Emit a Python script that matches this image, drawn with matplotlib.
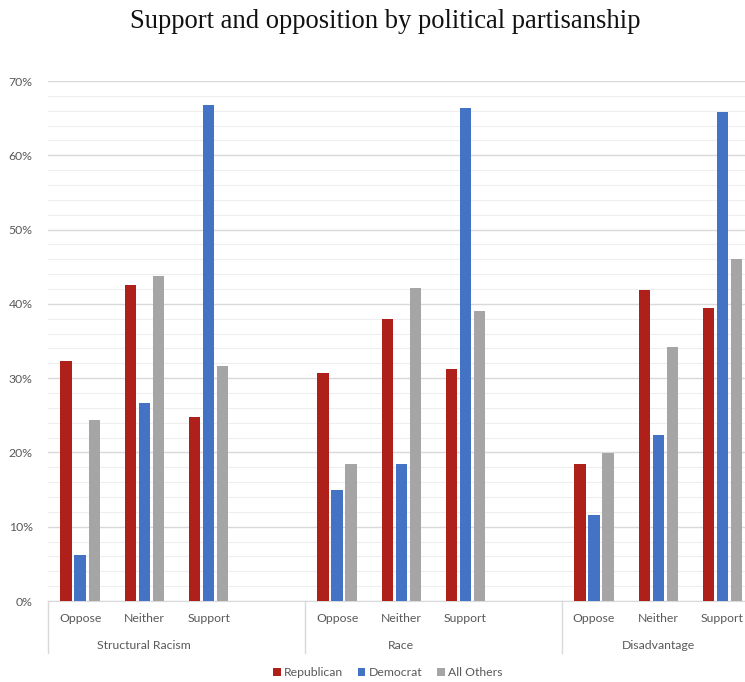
import matplotlib.pyplot as plt
import matplotlib.transforms as mtransforms
import numpy as np

plt.rcParams['font.family'] = ['Lato', 'DejaVu Sans']

groups = ["Structural Racism", "Race", "Disadvantage"]
responses = ["Oppose", "Neither", "Support"]
series = ["Republican", "Democrat", "All Others"]

republican = [32.3, 42.6, 24.8, 30.7, 37.9, 31.2, 18.4, 41.9, 39.5]
democrat = [6.2, 26.7, 66.8, 15.0, 18.4, 66.3, 11.6, 22.4, 65.8]
all_others = [24.4, 43.8, 31.6, 18.5, 42.1, 39.0, 19.9, 34.2, 46.0]

colors = ["#B0201A", "#4472C4", "#A5A5A5"]

fig = plt.figure(figsize=(7.45, 6.82), dpi=100)
ax = fig.add_axes([48 / 745, 81 / 682, 1 - 48 / 745, 520 / 682])

# each group has 3 response slots plus one empty slot
pos = np.array([g * 4 + r for g in range(len(groups)) for r in range(len(responses))], dtype=float)
width = 0.175
step = 0.218
for i, (vals, name) in enumerate(zip([republican, democrat, all_others], series)):
    ax.bar(pos + (i - 1) * step, np.array(vals) / 100, width, color=colors[i], label=name, zorder=3)

ax.set_ylim(0, 0.70)
ax.set_xlim(-0.5, 10.35)
ax.set_yticks(np.arange(0, 0.71, 0.1))
ax.set_yticklabels([f"{int(round(v * 100))}%" for v in np.arange(0, 0.71, 0.1)], fontsize=8.8, color="#595959")
ax.set_yticks(np.arange(0, 0.71, 0.02), minor=True)
ax.grid(axis="y", which="major", color="#d9d9d9", lw=1, zorder=0)
ax.grid(axis="y", which="minor", color="#eeeeee", lw=0.8, zorder=0)
ax.tick_params(axis="y", which="both", length=0, pad=11)
ax.set_xticks(pos)
ax.set_xticklabels(responses * len(groups), fontsize=8.8, color="#595959")
ax.tick_params(axis="x", length=0, pad=9)
for s in ["top", "right", "left"]:
    ax.spines[s].set_visible(False)
ax.spines["bottom"].set_color("#d9d9d9")

trans = mtransforms.blended_transform_factory(ax.transData, ax.transAxes)
for g, name in enumerate(groups):
    ax.text(g * 4 + 1, -0.085, name, transform=trans, ha="center", va="center", fontsize=8.8, color="#595959")
for b in range(len(groups)):
    ax.plot([b * 4 - 0.5, b * 4 - 0.5], [0, -0.1], transform=trans, color="#d9d9d9", lw=1, clip_on=False)

fig.legend(loc="center", bbox_to_anchor=(388 / 745, 1 - 673 / 682), ncol=3, frameon=False,
           fontsize=8.8, handlelength=0.6, handleheight=0.6, handletextpad=0.3, columnspacing=1.2,
           labelcolor="#595959")

fig.text(385 / 745, 1 - 22 / 682, "Support and opposition by political partisanship",
         ha="center", va="center", fontsize=19.2, family="Liberation Serif", color="#111111")

fig.savefig("out.png", dpi=100)
